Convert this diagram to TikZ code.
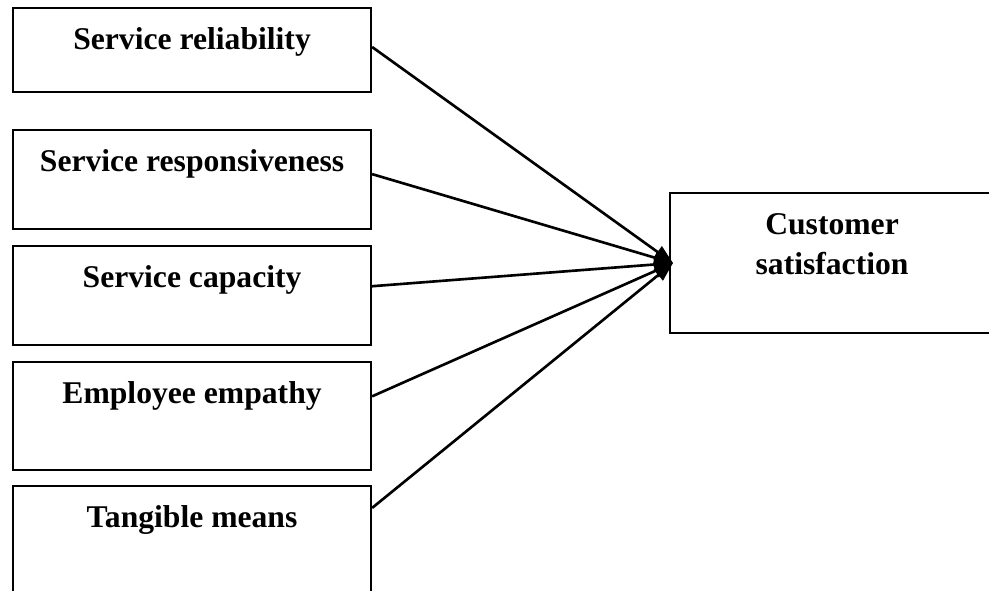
\documentclass[tikz,border=0pt]{standalone}
\usepackage{fontspec}
\setmainfont{Liberation Serif}
\usetikzlibrary{positioning, arrows.meta}
\tikzset{
  >={Triangle[length=0.38cm, width=0.28cm]}, % filled arrow heads
  factor/.style={draw, line width=1.2pt, inner sep=0pt, minimum width=7.16cm,
    text height=0.82cm, font=\fontsize{18}{22.7}\selectfont\bfseries}, % the boxes
  link/.style={->, line width=1.5pt}, % lines into the outcome box
}

\begin{document}
\begin{tikzpicture}
  \useasboundingbox (0,0) rectangle (19.78,-11.8);

  \node[factor, text depth=0.86cm, anchor=north west] (f1) at (0.24,-0.14) {Service reliability};
  \node[factor, text depth=1.16cm, below=0.72cm of f1] (f2) {Service responsiveness};
  \node[factor, text depth=1.16cm, below=0.30cm of f2] (f3) {Service capacity};
  \node[factor, text depth=1.34cm, below=0.30cm of f3] (f4) {Employee empathy};
  \node[factor, text depth=1.44cm, below=0.27cm of f4] (f5) {Tangible means};

  % two lines: text height counts from the last line
  \node[factor, minimum width=6.48cm, text height=1.62cm, text depth=1.18cm, align=center,
    anchor=north west] (cs) at (13.38,-3.84) {Customer\\satisfaction};

  \coordinate (tip) at ([xshift=0.08cm]cs.west);

  \draw[link] ([yshift=-0.80cm]f1.north east) -- (tip);
  \draw[link] ([yshift=-0.90cm]f2.north east) -- (tip);
  \draw[link] ([yshift=-0.82cm]f3.north east) -- (tip);
  \draw[link] ([yshift=-0.70cm]f4.north east) -- (tip);
  \draw[link] ([yshift=-0.46cm]f5.north east) -- (tip);
\end{tikzpicture}
\end{document}
